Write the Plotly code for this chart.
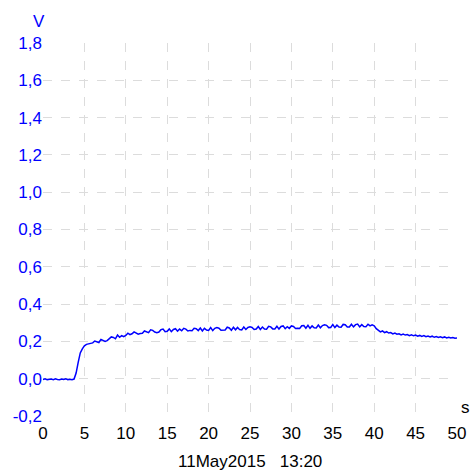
import plotly.graph_objects as go

# Sampling: 4 samples per second over 0..50 s
time_s = [i * 0.25 for i in range(201)]

# Measured voltage (V), one row per second (t, t+0.25, t+0.5, t+0.75)
voltage = [
    -0.004, -0.001, -0.006, -0.003,   # 0
    -0.002, -0.005, -0.001, -0.004,   # 1
    -0.006, -0.002, -0.004, -0.001,   # 2
    -0.005, -0.003, -0.006, -0.002,   # 3
    0.030, 0.088, 0.138, 0.160,       # 4
    0.176, 0.184, 0.188, 0.192,       # 5
    0.192, 0.202, 0.199, 0.194,       # 6
    0.211, 0.207, 0.200, 0.204,       # 7
    0.212, 0.224, 0.221, 0.214,       # 8
    0.234, 0.222, 0.231, 0.225,       # 9
    0.232, 0.244, 0.236, 0.241,       # 10
    0.251, 0.247, 0.239, 0.242,       # 11
    0.244, 0.256, 0.252, 0.247,       # 12
    0.262, 0.259, 0.250, 0.247,       # 13
    0.250, 0.263, 0.266, 0.252,       # 14
    0.254, 0.267, 0.252, 0.264,       # 15
    0.268, 0.255, 0.266, 0.257,       # 16
    0.270, 0.266, 0.256, 0.259,       # 17
    0.257, 0.270, 0.268, 0.258,       # 18
    0.272, 0.256, 0.270, 0.261,       # 19
    0.259, 0.274, 0.258, 0.270,       # 20
    0.274, 0.271, 0.260, 0.262,       # 21
    0.261, 0.276, 0.272, 0.260,       # 22
    0.276, 0.262, 0.275, 0.263,       # 23
    0.262, 0.277, 0.264, 0.275,       # 24
    0.278, 0.275, 0.264, 0.266,       # 25
    0.280, 0.264, 0.277, 0.266,       # 26
    0.265, 0.281, 0.278, 0.267,       # 27
    0.267, 0.281, 0.266, 0.280,       # 28
    0.283, 0.268, 0.279, 0.270,       # 29
    0.283, 0.280, 0.269, 0.271,       # 30
    0.269, 0.284, 0.285, 0.271,       # 31
    0.286, 0.270, 0.283, 0.273,       # 32
    0.272, 0.288, 0.273, 0.285,       # 33
    0.289, 0.286, 0.274, 0.275,       # 34
    0.290, 0.274, 0.287, 0.277,       # 35
    0.276, 0.291, 0.289, 0.277,       # 36
    0.277, 0.292, 0.278, 0.290,       # 37
    0.293, 0.278, 0.290, 0.280,       # 38
    0.279, 0.292, 0.283, 0.289,       # 39
    0.284, 0.268, 0.258, 0.251,       # 40
    0.256, 0.247, 0.252, 0.245,       # 41
    0.247, 0.240, 0.245, 0.239,       # 42
    0.241, 0.235, 0.239, 0.234,       # 43
    0.237, 0.231, 0.235, 0.230,       # 44
    0.234, 0.228, 0.232, 0.227,       # 45
    0.231, 0.225, 0.229, 0.224,       # 46
    0.228, 0.222, 0.226, 0.221,       # 47
    0.225, 0.220, 0.224, 0.219,       # 48
    0.222, 0.218, 0.221, 0.217,       # 49
    0.218,                            # 50
]

x_ticks = [0, 5, 10, 15, 20, 25, 30, 35, 40, 45, 50]
x_tick_text = [str(v) for v in x_ticks]
y_ticks = [-0.2, 0.0, 0.2, 0.4, 0.6, 0.8, 1.0, 1.2, 1.4, 1.6, 1.8]
y_tick_text = ["-0,2", "0,0", "0,2", "0,4", "0,6", "0,8", "1,0", "1,2", "1,4", "1,6", "1,8"]

x_unit = "s"
y_unit = "V"
timestamp = "11May2015\u00a0\u00a0\u00a013:20"

FONT = "Liberation Sans, Arial, sans-serif"
GRID = "#dcdcdc"

fig = go.Figure()
fig.add_trace(go.Scatter(
    x=time_s, y=voltage, mode="lines",
    line=dict(color="#0000ff", width=1.5),
    showlegend=False,
))

fig.update_layout(
    width=470, height=472,
    margin=dict(l=43, r=13, t=43, b=56),
    paper_bgcolor="white", plot_bgcolor="white",
    font=dict(family=FONT, size=17),
)
fig.update_xaxes(
    range=[0, 50], tickvals=x_ticks, ticktext=x_tick_text,
    showgrid=True, gridcolor=GRID, griddash="dash", gridwidth=1,
    zeroline=False, showline=False, ticks="", automargin=False,
    ticklabelstandoff=5,
    tickfont=dict(color="black", size=17, family=FONT),
)
fig.update_yaxes(
    range=[-0.2, 1.8], tickvals=y_ticks, ticktext=y_tick_text,
    showgrid=True, gridcolor=GRID, griddash="dash", gridwidth=1,
    zeroline=False, showline=False, ticks="", automargin=False,
    tickfont=dict(color="#0000ff", size=17, family=FONT),
)

fig.add_annotation(text=y_unit, xref="paper", yref="paper", x=-0.01, y=1.0,
                   yshift=22, showarrow=False, xanchor="center", yanchor="middle",
                   font=dict(color="#0000ff", size=17, family=FONT))
fig.add_annotation(text=x_unit, xref="paper", yref="paper", x=1.0, y=0.0,
                   xshift=8, yshift=9, showarrow=False, xanchor="center", yanchor="middle",
                   font=dict(color="black", size=17, family=FONT))
fig.add_annotation(text=timestamp, xref="paper", yref="paper", x=0.5, y=0.0,
                   yshift=-45, showarrow=False, xanchor="center", yanchor="middle",
                   font=dict(color="black", size=17, family=FONT))

fig.write_html("out.html")
